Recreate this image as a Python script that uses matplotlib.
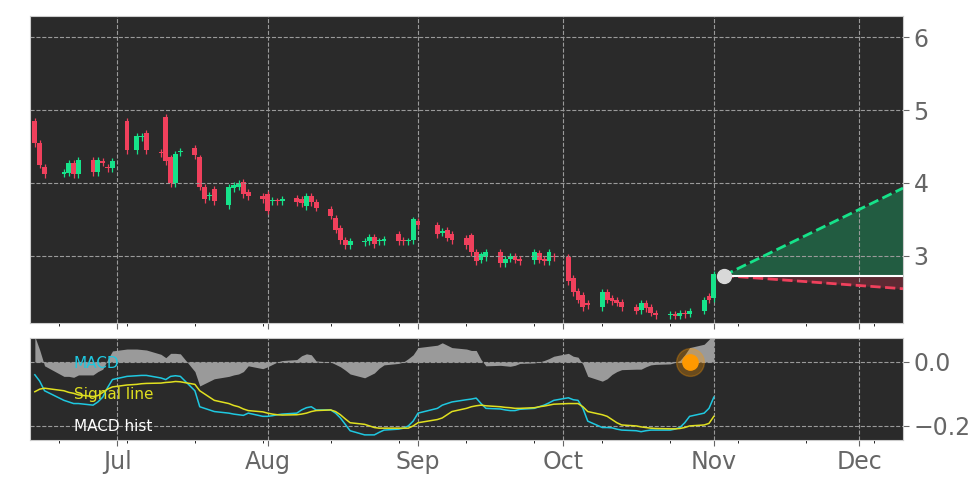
import matplotlib
matplotlib.use("Agg")
import matplotlib.pyplot as plt
import matplotlib.dates as mdates
import numpy as np
import pandas as pd

opens = [4.85,4.55,4.22,4.13,4.14,4.27,4.12,4.32,4.15,4.3,4.22,4.2,
         4.85,4.45,4.63,4.68,4.42,4.9,4.35,4.0,4.42,4.48,4.35,3.95,3.82,3.92,3.7,3.93,3.95,4.02,3.88,3.82,
         3.85,3.75,3.76,3.75,3.8,3.78,3.68,3.82,3.74,3.65,3.52,3.38,3.22,3.15,3.19,3.2,3.26,3.2,3.2,3.3,3.22,3.2,3.22,
         3.48,3.42,3.32,3.35,3.3,3.25,3.28,3.05,2.95,2.98,3.05,2.9,2.96,3.0,2.96,2.94,3.04,2.96,2.93,3.0,
         2.98,2.7,2.52,2.46,2.35,2.3,2.5,2.42,2.4,2.37,2.3,2.26,2.36,2.3,2.22,2.19,2.2,2.18,2.22,2.21,2.25,2.45,
         2.42]
closes = [4.55,4.25,4.12,4.15,4.27,4.12,4.32,4.15,4.32,4.28,4.2,4.3,
          4.45,4.65,4.65,4.45,4.41,4.3,4.0,4.4,4.44,4.38,3.95,3.78,3.84,3.75,3.95,3.97,4.0,3.85,3.82,3.78,
          3.62,3.77,3.75,3.78,3.74,3.72,3.82,3.74,3.66,3.55,3.36,3.22,3.15,3.2,3.21,3.26,3.16,3.2,3.23,3.2,3.2,3.21,3.5,
          3.42,3.3,3.34,3.25,3.22,3.15,3.05,2.93,3.02,3.05,2.9,2.96,3.0,2.95,2.93,3.05,2.95,2.93,3.05,2.98,
          2.65,2.5,2.4,2.3,2.32,2.5,2.4,2.38,2.36,2.3,2.25,2.36,2.28,2.22,2.19,2.2,2.18,2.22,2.2,2.24,2.4,2.4,
          2.75]
macd = [-0.04,-0.06,-0.09,-0.12,-0.125,-0.13,-0.13,-0.135,-0.125,-0.11,-0.08,-0.055,-0.045,-0.043,-0.042,-0.042,
        -0.05,-0.055,-0.045,-0.043,-0.045,-0.09,-0.14,-0.145,-0.15,-0.155,-0.16,-0.163,-0.165,-0.167,-0.16,-0.17,
        -0.17,-0.168,-0.165,-0.163,-0.16,-0.15,-0.143,-0.14,-0.15,-0.15,-0.16,-0.175,-0.195,-0.215,-0.228,-0.228,
        -0.228,-0.22,-0.213,-0.21,-0.207,-0.2,-0.185,-0.16,-0.145,-0.135,-0.13,-0.125,-0.118,-0.116,-0.113,-0.13,
        -0.145,-0.147,-0.15,-0.152,-0.152,-0.148,-0.145,-0.14,-0.135,-0.128,-0.12,-0.112,-0.118,-0.12,-0.145,-0.185,
        -0.205,-0.205,-0.206,-0.21,-0.213,-0.215,-0.218,-0.215,-0.213,-0.213,-0.213,-0.21,-0.205,-0.19,-0.17,-0.16,
        -0.145,-0.11]
signal = [-0.093,-0.085,-0.082,-0.09,-0.095,-0.098,-0.103,-0.108,-0.105,-0.095,-0.085,-0.078,-0.072,-0.07,-0.068,
          -0.067,-0.066,-0.064,-0.063,-0.061,-0.062,-0.07,-0.09,-0.1,-0.11,-0.12,-0.13,-0.136,-0.14,-0.147,-0.152,
          -0.156,-0.16,-0.163,-0.165,-0.166,-0.165,-0.163,-0.16,-0.155,-0.152,-0.15,-0.155,-0.165,-0.178,-0.19,-0.195,
          -0.2,-0.205,-0.207,-0.207,-0.207,-0.207,-0.207,-0.2,-0.19,-0.18,-0.175,-0.165,-0.155,-0.145,-0.14,-0.137,
          -0.135,-0.137,-0.14,-0.142,-0.143,-0.145,-0.145,-0.143,-0.14,-0.138,-0.135,-0.132,-0.13,-0.13,-0.13,-0.14,
          -0.155,-0.165,-0.17,-0.18,-0.19,-0.197,-0.2,-0.203,-0.205,-0.207,-0.208,-0.209,-0.209,-0.208,-0.205,-0.2,
          -0.197,-0.192,-0.17]
hist_scale = 1.5
fc_dates = ["2023-11-03", "2023-12-10"]
fc_mid = [2.73, 2.73]
fc_up = [2.73, 3.93]
fc_lo = [2.73, 2.55]
marker_date = "2023-10-27"

dates = pd.bdate_range("2023-06-14", "2023-11-01")
dates = dates[~dates.isin(pd.to_datetime(["2023-06-19", "2023-07-04", "2023-09-04"]))]
n = min(len(dates), len(opens), len(macd))
dates = dates[:n]
o = np.array(opens[:n]); c = np.array(closes[:n])
m = np.array(macd[:n]); s = np.array(signal[:n]); h = (m - s) * hist_scale
fcd = pd.to_datetime(fc_dates)

BG = "#2a2a2a"; UP = "#16e38a"; DN = "#f0405c"; TXT = "#666666"
fig = plt.figure(figsize=(9.72, 4.86), dpi=100)
ax = fig.add_axes([30/972, 1-323/486, 873/972, 307/486])
ax2 = fig.add_axes([30/972, 1-440/486, 873/972, 102/486], sharex=ax)
for a in (ax, ax2):
    a.set_facecolor(BG)
    a.grid(True, color="#9a9a9a", linestyle="--", linewidth=0.8)
    a.yaxis.tick_right()
    a.tick_params(colors=TXT, labelsize=17, length=4)
    for sp in a.spines.values():
        sp.set_color("#cccccc")

x = mdates.date2num(dates)
w = 1.0
for xi, oi, ci in zip(x, o, c):
    col = UP if ci >= oi else DN
    lo, hi = min(oi, ci), max(oi, ci)
    ax.vlines(xi, lo - 0.05, hi + 0.04, color=col, linewidth=0.9)
    ax.bar(xi, max(hi - lo, 0.012), width=w, bottom=lo, color=col, linewidth=0)

fx = mdates.date2num(fcd)
ax.fill_between(fx, fc_mid, fc_up, color="#225c41", linewidth=0)
ax.fill_between(fx, fc_mid, fc_lo, color="#5c2a33", linewidth=0)
ax.plot(fx, fc_up, "--", color=UP, lw=2)
ax.plot(fx, fc_lo, "--", color=DN, lw=2)
ax.plot(fx, fc_mid, "-", color="white", lw=1.5)
ax.plot(fx[0], fc_mid[0], "o", color="#d8d8d8", ms=10)

ax.set_ylim(2.08, 6.29)
ax.set_yticks([3, 4, 5, 6])
ax.set_xlim(mdates.date2num(pd.Timestamp("2023-06-13")), mdates.date2num(pd.Timestamp("2023-12-10")))
plt.setp(ax.get_xticklabels(), visible=False)

ax2.fill_between(x, h, 0, color="#9a9a9a", linewidth=0)
ax2.plot(x, m, color="#1fc8e0", lw=1.1)
ax2.plot(x, s, color="#e0e020", lw=1.1)
md = mdates.date2num(pd.Timestamp(marker_date))
ax2.plot(md, 0, "o", color="#ff9900", ms=20, alpha=0.3)
ax2.plot(md, 0, "o", color="#ff9900", ms=11)
ax2.set_ylim(-0.244, 0.075)
ax2.set_yticks([0.0, -0.2])
ax2.set_yticklabels(["0.0", "\u22120.2"])
ax2.text(0.05, 0.75, "MACD", color="#1fc8e0", fontsize=11, transform=ax2.transAxes, va="center")
ax2.text(0.05, 0.45, "Signal line", color="#e0e020", fontsize=11, transform=ax2.transAxes, va="center")
ax2.text(0.05, 0.13, "MACD hist", color="white", fontsize=11, transform=ax2.transAxes, va="center")
ax2.xaxis.set_major_locator(mdates.MonthLocator())
ax2.xaxis.set_major_formatter(mdates.DateFormatter("%b"))
ax2.xaxis.set_minor_locator(mdates.WeekdayLocator(byweekday=0, interval=2))
ax.xaxis.set_minor_locator(mdates.WeekdayLocator(byweekday=0, interval=2))

fig.savefig("out.png", dpi=100, facecolor="white")
